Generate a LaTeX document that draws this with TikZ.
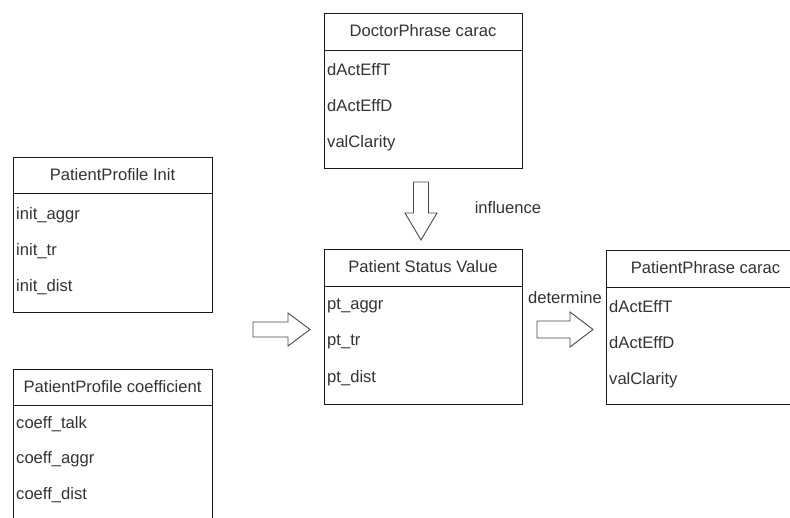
\documentclass[tikz,border=0pt]{standalone}
\usepackage{fontspec}
\setmainfont{Liberation Sans}
\definecolor{txt}{HTML}{333333}
\definecolor{edge}{HTML}{1A1A1A}
\begin{document}
\begin{tikzpicture}[x=1pt,y=-1pt,
  boxframe/.style={draw=edge,line width=0.9pt,rectangle,inner sep=0pt,anchor=north west,fill=white},
  titletext/.style={text=txt,font=\fontsize{16.6}{19}\selectfont,inner sep=0pt,anchor=center},
  rowtext/.style={text=txt,font=\fontsize{16.6}{19}\selectfont,inner sep=0pt,anchor=west},
  labeltext/.style={text=txt,font=\fontsize{16.6}{19}\selectfont,inner sep=0pt,anchor=center},
  sepline/.style={draw=edge,line width=0.9pt},
  blockarrow/.style={draw=edge!80,line width=0.9pt,fill=white,line join=miter}]
\fill[white] (0,0) rectangle (790,517);
\useasboundingbox (0,0) rectangle (790,517);
\clip (0,0) rectangle (790,517);

% PatientProfile Init
\node[boxframe,minimum width=199pt,minimum height=155pt] (initbox) at (13,157) {};
\draw[sepline] (13,193) -- (212,193);
\node[titletext] (inittitle) at (112.5,175) {PatientProfile Init};
\node[rowtext] (initA) at (16,215) {init\_aggr};
\node[rowtext] (initB) at (16,251) {init\_tr};
\node[rowtext] (initC) at (16,287) {init\_dist};

% PatientProfile coefficient
\node[boxframe,minimum width=199pt,minimum height=170pt] (coefbox) at (13,369) {};
\draw[sepline] (13,405) -- (212,405);
\node[titletext] (coeftitle) at (112.5,387) {PatientProfile coefficient};
\node[rowtext] (coefA) at (16,424) {coeff\_talk};
\node[rowtext] (coefB) at (16,459) {coeff\_aggr};
\node[rowtext] (coefC) at (16,495) {coeff\_dist};

% DoctorPhrase carac
\node[boxframe,minimum width=198pt,minimum height=155pt] (docbox) at (324,13) {};
\draw[sepline] (324,50) -- (522,50);
\node[titletext] (doctitle) at (423,31) {DoctorPhrase carac};
\node[rowtext] (docA) at (327,70) {dActEffT};
\node[rowtext] (docB) at (327,106) {dActEffD};
\node[rowtext] (docC) at (327,143) {valClarity};

% Patient Status Value
\node[boxframe,minimum width=198pt,minimum height=155pt] (ptbox) at (324,249) {};
\draw[sepline] (324,286) -- (522,286);
\node[titletext] (pttitle) at (423,267) {Patient Status Value};
\node[rowtext] (ptA) at (327,306) {pt\_aggr};
\node[rowtext] (ptB) at (327,342) {pt\_tr};
\node[rowtext] (ptC) at (327,378) {pt\_dist};

% PatientPhrase carac
\node[boxframe,minimum width=199pt,minimum height=154pt] (ppbox) at (606,250) {};
\draw[sepline] (606,287) -- (805,287);
\node[titletext] (pptitle) at (705.5,268) {PatientPhrase carac};
\node[rowtext] (ppA) at (609,307) {dActEffT};
\node[rowtext] (ppB) at (609,343) {dActEffD};
\node[rowtext] (ppC) at (609,380) {valClarity};

% block arrows
\draw[blockarrow] (413.5,182) -- (428.5,182) -- (428.5,213) -- (437,213) -- (421,240)
  -- (405,213) -- (413.5,213) -- cycle;
\draw[blockarrow] (253,322) -- (288,322) -- (288,313) -- (310,329.5) -- (288,346)
  -- (288,337) -- (253,337) -- cycle;
\draw[blockarrow] (537,321) -- (570,321) -- (570,312) -- (593,329.5) -- (570,347)
  -- (570,338) -- (537,338) -- cycle;

% labels
\node[labeltext] (lblinfl) at (508,208) {influence};
\node[labeltext] (lbldet) at (565,298) {determine};
\end{tikzpicture}
\end{document}
